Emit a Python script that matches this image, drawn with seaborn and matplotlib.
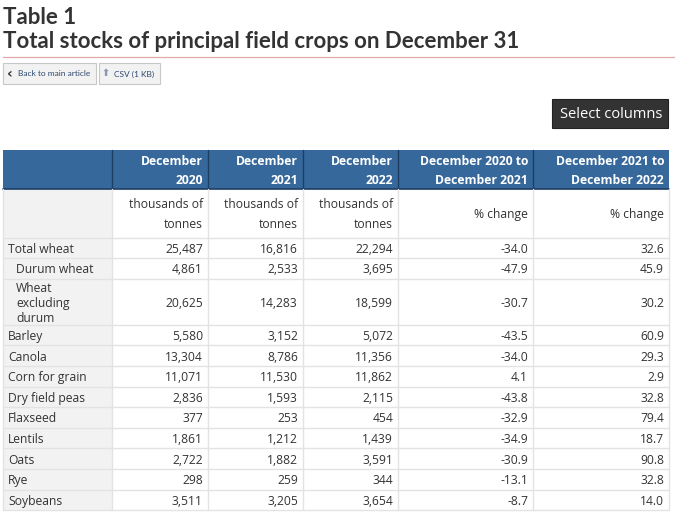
import matplotlib
matplotlib.use("Agg")
import matplotlib.pyplot as plt
from matplotlib.patches import Rectangle
import seaborn as sns

# Table data (thousands of tonnes, % change)
crops = ["Total wheat", "Durum wheat", "Wheat\nexcluding\ndurum", "Barley", "Canola",
         "Corn for grain", "Dry field peas", "Flaxseed", "Lentils", "Oats", "Rye", "Soybeans"]
sub_crops = ["Durum wheat", "Wheat\nexcluding\ndurum"]
dec_2020 = [25487, 4861, 20625, 5580, 13304, 11071, 2836, 377, 1861, 2722, 298, 3511]
dec_2021 = [16816, 2533, 14283, 3152, 8786, 11530, 1593, 253, 1212, 1882, 259, 3205]
dec_2022 = [22294, 3695, 18599, 5072, 11356, 11862, 2115, 454, 1439, 3591, 344, 3654]
chg_2020_2021 = [-34.0, -47.9, -30.7, -43.5, -34.0, 4.1, -43.8, -32.9, -34.9, -30.9, -13.1, -8.7]
chg_2021_2022 = [32.6, 45.9, 30.2, 60.9, 29.3, 2.9, 32.8, 79.4, 18.7, 90.8, 32.8, 14.0]
col_headers = ["December\n2020", "December\n2021", "December\n2022",
               "December 2020 to\nDecember 2021", "December 2021 to\nDecember 2022"]
col_units = ["thousands of\ntonnes"] * 3 + ["% change"] * 2

sns.set_theme(style="white")
plt.rcParams["font.family"] = ["Open Sans", "DejaVu Sans"]

W, H = 675, 514
fig = plt.figure(figsize=(W / 100, H / 100), dpi=100)
ax = fig.add_axes([0, 0, 1, 1])
ax.set_xlim(0, W)
ax.set_ylim(H, 0)
ax.axis("off")

TXT = "#333333"
BLUE = "#36689c"
GRID = "#e3e3e3"
FS = 8.7
DY = 1.5  # nudge text down to sit like the browser rendering

# title
ax.text(3, 24, "Table 1", fontsize=16, fontweight="bold", family=["Lato", "DejaVu Sans"],
        color=TXT, va="baseline")
ax.text(3, 48, "Total stocks of principal field crops on December 31", fontsize=16,
        fontweight="bold", family=["Lato", "DejaVu Sans"], color=TXT, va="baseline")
ax.plot([3, W], [57, 57], color="#e2a8a8", lw=0.9)

# small buttons
for x0, x1, label, icon in [(3, 96, "Back to main article", "‹"), (99, 160, "CSV (1 KB)", "⬆")]:
    ax.add_patch(Rectangle((x0, 63), x1 - x0, 21, facecolor="#f2f2f2", edgecolor="#c8c8c8", lw=0.8))
    ax.text(x0 + 7, 73.5, icon, fontsize=7 if icon == "⬆" else 10, fontweight="bold",
            color="#8a9ab0" if icon == "⬆" else TXT, va="center", ha="center",
            family=["DejaVu Sans"])
    ax.text(x0 + 15, 74, label, fontsize=6, family=["Lato", "DejaVu Sans"],
            color="#2d4a6e", va="center")

# select columns button
ax.add_patch(Rectangle((552, 99), 116, 29, facecolor="#333333", edgecolor="#222222", lw=0.8))
ax.text(611, 114, "Select columns", fontsize=10.5, color="white", ha="center", va="center")

# table geometry
col_edges = [3, 112, 208, 303, 398, 533, 669]
head_top, head_bot, unit_bot = 150, 189, 237.5
row_h = [46 if "\n" in c else 20.6 for c in crops]

# header
ax.add_patch(Rectangle((col_edges[0], head_top), col_edges[-1] - col_edges[0],
                       head_bot - head_top, facecolor=BLUE, edgecolor="none"))
for x in col_edges[1:-1]:
    ax.plot([x, x], [head_top, head_bot], color="#1e3d63", lw=1)
ax.plot([col_edges[0], col_edges[-1]], [head_bot, head_bot], color="#1e3d63", lw=1.2)
for i, h in enumerate(col_headers):
    ax.text(col_edges[i + 2] - 5, (head_top + head_bot) / 2 + DY, h, fontsize=FS,
            fontweight="bold", color="white", ha="right", va="center", linespacing=1.65)

# body rows
row_tops = [unit_bot]
for h in row_h:
    row_tops.append(row_tops[-1] + h)
body_bot = row_tops[-1]
ax.add_patch(Rectangle((col_edges[0], head_bot), col_edges[1] - col_edges[0],
                       body_bot - head_bot, facecolor="#f2f2f2", edgecolor="none"))
for x in col_edges[1:]:
    ax.plot([x, x], [head_bot, body_bot], color=GRID, lw=1)
ax.plot([col_edges[0], col_edges[0]], [head_bot, body_bot], color=GRID, lw=1)
for y in row_tops:
    ax.plot([col_edges[0], col_edges[-1]], [y, y], color=GRID, lw=1)

for i, u in enumerate(col_units):
    ax.text(col_edges[i + 2] - 5, (head_bot + unit_bot) / 2 + DY, u, fontsize=FS, color=TXT,
            ha="right", va="center", linespacing=1.75)

for r, crop in enumerate(crops):
    yc = (row_tops[r] + row_tops[r + 1]) / 2 + DY
    indent = 16 if crop in sub_crops else 8
    ax.text(indent, yc, crop, fontsize=FS, color=TXT, ha="left", va="center", linespacing=1.2)
    vals = [f"{dec_2020[r]:,}", f"{dec_2021[r]:,}", f"{dec_2022[r]:,}",
            f"{chg_2020_2021[r]:.1f}", f"{chg_2021_2022[r]:.1f}"]
    for c, v in enumerate(vals):
        ax.text(col_edges[c + 2] - 5, yc, v, fontsize=FS, color=TXT, ha="right", va="center")

fig.savefig("out.png", dpi=100)
